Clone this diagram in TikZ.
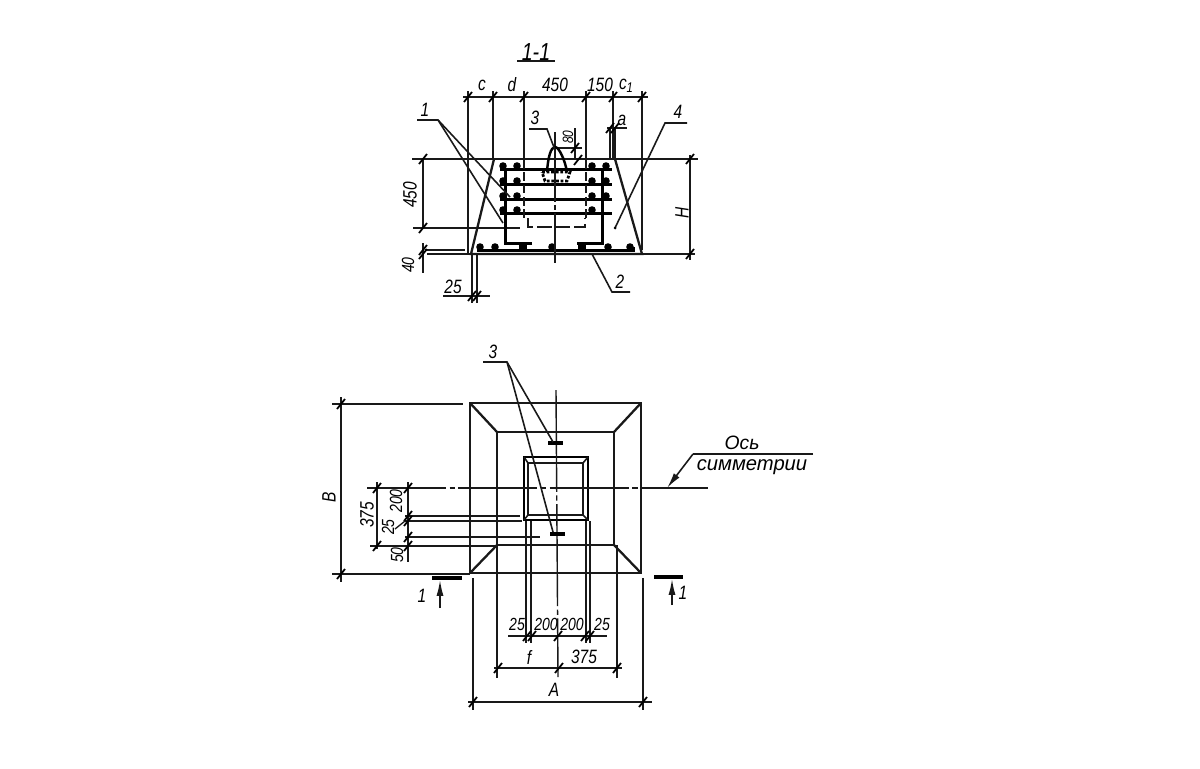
\documentclass[tikz,border=0pt]{standalone}
\usepackage{fontspec}
\setmainfont{Liberation Sans}
\newfontfamily\narrowfont[FakeStretch=0.8]{Liberation Sans}
\usetikzlibrary{arrows.meta, positioning}
\tikzset{
  line/.style={line width=0.9pt, black!90},
  thin line/.style={line width=0.75pt, black!90},
  outline/.style={line width=1.3pt, black!90},
  bar/.style={line width=1.8pt, black},
  axis/.style={line width=0.8pt, black!90},
  hidden/.style={line width=0.9pt, black!90, dash pattern=on 8pt off 2.5pt},
  label/.style={font=\narrowfont\fontsize{11}{12}\selectfont\itshape, inner sep=0pt, text=black},
  small label/.style={font=\narrowfont\fontsize{10}{12}\selectfont\itshape, inner sep=0pt, text=black},
  rotlabel/.style={label, rotate=90},
  arrow line/.style={line, -{Latex[length=9pt,width=4pt]}},
}
\newcommand{\dimtick}[2]{\draw[line width=1pt] (#1-4,#2+5) -- (#1+4,#2-5);}
\begin{document}
\begin{tikzpicture}[x=0.02cm, y=-0.02cm]
  \useasboundingbox (0,0) rectangle (1200,768);

  % Razrez 1-1: kontur
  \node[label, font=\narrowfont\fontsize{14}{14}\selectfont\itshape] (title) at (536,52) {1-1};
  \draw[line] (517,61) -- (555,61);
  \draw[outline] (494,159) -- (613,159);
  \draw[outline] (494,159) -- (471,254) -- (642,254) -- (615,159);

  % Vynosnye linii
  \draw[thin line] (463,97) -- (648,97);
  \foreach \x/\yend in {468/253, 493/159, 524/158, 586/158, 613/159, 642/250} {
    \draw[thin line] (\x,91) -- (\x,\yend);
    \dimtick{\x}{97}
  }
  \draw[thin line] (412,159) -- (698,159);
  \draw[thin line] (413,228) -- (520,228);
  \draw[thin line] (427,254) -- (695,254);
  \draw[thin line] (425,250) -- (465,250);
  \draw[thin line] (423,159) -- (423,228);
  \draw[thin line] (423,243) -- (423,273);
  \draw[thin line] (690,155) -- (690,260);
  \foreach \x/\y in {423/159, 423/228, 423/250, 423/254, 690/159, 690/254} {
    \dimtick{\x}{\y}
  }
  \draw[thin line] (443,296) -- (490,296);
  \foreach \x in {472,477} {
    \draw[thin line] (\x,254) -- (\x,303);
    \dimtick{\x}{296}
  }
  \draw[thin line] (607,128) -- (627,128);
  \foreach \x in {610,615} {
    \draw[thin line] (\x,128) -- (\x,159);
    \dimtick{\x}{128}
  }
  \draw[thin line] (555,148) -- (582,148);
  \draw[thin line] (575,128) -- (575,158);
  \dimtick{575}{148}
  \dimtick{578}{160}

  % Armatura
  \foreach \y in {169.3,184.3,199.3,213.3} {
    \draw[bar] (500,\y) -- (612,\y);
  }
  \draw[bar] (532,243.3) -- (505.3,243.3) -- (505.3,168);
  \draw[bar] (577,243.3) -- (602.3,243.3) -- (602.3,168);
  \draw[bar] (477,250.3) -- (633,250.3) -- (633,247);
  \foreach \y in {166,181,196,210} {
    \foreach \x in {517,592} {
      \fill (\x,\y) circle (3.8);
    }
  }
  \foreach \y in {166,181,196} {
    \fill (606,\y) circle (3.8);
    \fill (503,\y) circle (3.8);
  }
  \fill (503,210) circle (3.8);
  \foreach \x in {480,495,552,608,630} {
    \fill (\x,247) circle (3.8);
  }
  \foreach \x in {523,582} {
    \fill (\x-4,243) rectangle (\x+4,250);
  }
  \draw[hidden] (528,218) -- (528,227) -- (585,227) -- (585,218);
  \draw[thin line, dash pattern=on 5pt off 2pt] (524,160) -- (524,220);
  \draw[thin line, dash pattern=on 5pt off 2pt] (586,160) -- (586,220);
  \draw[axis, dash pattern=on 40pt off 1.5pt on 3pt off 1.5pt] (555,132) -- (555,263);

  % Petlya
  \draw[line width=1.4pt] (547,172) .. controls (548,157) and (551,147) .. (555,147)
    .. controls (559,147) and (565,160) .. (567,172);
  \draw[line width=1.6pt, densely dotted] (542,172) -- (570,172) -- (567,181) -- (545,181) -- cycle;

  % Vynoski
  \node[label] (lblone) at (425,110) {1};
  \draw[line] (417,120) -- (438,120) -- (510,197);
  \draw[line] (438,120) -- (503,223);
  \node[label] (lblthree) at (535,118) {3};
  \draw[line] (529,129) -- (547,129) -- (555,150);
  \node[label] (lblfour) at (678,112) {4};
  \draw[line] (687,123) -- (665,123) -- (615,228);
  \fill (615,228) circle (1.5);
  \node[label] (lbltwo) at (620,282) {2};
  \draw[line] (592,254) -- (612,292) -- (630,292);

  % Razmery 1-1
  \node[label] (dimc) at (482,85) {c};
  \node[label] (dimd) at (512,85) {d};
  \node[label] (dimtop) at (555,85) {450};
  \node[label] (dimonefifty) at (600,85) {150};
  \node[label] (dimcone) at (626,86) {c\raisebox{-2pt}{\fontsize{8}{8}\selectfont 1}};
  \node[label] (dima) at (622,120) {a};
  \node[rotlabel, font=\narrowfont\fontsize{8.5}{9}\selectfont\itshape] (dimeighty) at (568,137) {80};
  \node[rotlabel] (dimleft) at (410,195) {450};
  \node[rotlabel, font=\narrowfont\fontsize{10}{10}\selectfont\itshape] (dimforty) at (408,265) {40};
  \node[rotlabel] (dimh) at (682,213) {H};
  \node[label] (dimbase) at (453,287) {25};

  % Plan: kontur
  \draw[outline] (470,403) rectangle (641,573);
  \draw[outline] (497,432) rectangle (614,545);
  \draw[outline] (470,403) -- (497,432);
  \draw[outline] (641,403) -- (614,432);
  \draw[outline] (470,573) -- (497,545);
  \draw[outline] (641,573) -- (614,545);
  \draw[bar, line width=1.6pt] (524,457) rectangle (588,520);
  \draw[line] (528,463) rectangle (583,515);
  \draw[line] (524,457) -- (528,463);
  \draw[line] (588,457) -- (583,463);
  \draw[line] (524,520) -- (528,515);
  \draw[line] (588,520) -- (583,515);
  \draw[axis, dash pattern=on 58pt off 2pt on 3pt off 2pt] (556,390) -- (558,677);
  \draw[axis, dash pattern=on 45pt off 2pt on 3pt off 2pt] (367,488) -- (708,488);
  \draw[bar] (548,443) -- (563,443);
  \draw[bar] (550,534) -- (565,534);

  % Vynoska 3
  \node[label] (lblplan) at (493,352) {3};
  \draw[line] (483,362) -- (507,362) -- (553,442);
  \draw[line] (507,362) -- (553,532);

  % Ось симметрии
  \node[label, font=\fontsize{11}{12}\selectfont\itshape] (axisone) at (742,443) {Ось};
  \node[label, font=\fontsize{11.5}{12}\selectfont\itshape] (axistwo) at (752,467) {симметрии};
  \draw[line] (813,454) -- (693,454);
  \draw[arrow line] (693,454) -- (667,488);

  % Sechenie
  \draw[line width=2.4pt] (432,578) -- (462,578);
  \draw[line width=2.4pt] (654,577) -- (683,577);
  \draw[arrow line] (440,608) -- (440,580);
  \draw[arrow line] (672,605) -- (672,579);
  \node[label] (secleft) at (422,596) {1};
  \node[label] (secright) at (683,593) {1};

  % Razmery sleva
  \draw[line] (332,404) -- (463,404);
  \draw[line] (332,574) -- (470,574);
  \draw[line] (341,397) -- (341,582);
  \dimtick{341}{404}
  \dimtick{341}{574}
  \node[rotlabel] (dimb) at (329,497) {B};
  \draw[thin line] (377,482) -- (377,549);
  \draw[thin line] (408,482) -- (408,562);
  \draw[thin line] (370,546) -- (497,546);
  \draw[thin line] (405,516) -- (520,516);
  \draw[thin line] (405,521) -- (522,521);
  \draw[thin line] (405,537) -- (540,537);
  \foreach \x/\y in {377/488, 377/546, 408/488, 408/516, 408/521, 408/537, 408/546} {
    \dimtick{\x}{\y}
  }
  \draw[thin line] (395,529) -- (405,521);
  \node[rotlabel] (dimtf) at (367,515) {375};
  \node[rotlabel, small label] (dimtwoh) at (396,501) {200};
  \node[rotlabel, small label] (dimtw) at (388,527) {25};
  \node[rotlabel, small label] (dimfifty) at (397,555) {50};

  % Razmery snizu
  \draw[line] (473,578) -- (473,710);
  \draw[line] (643,578) -- (643,710);
  \draw[line] (468,702) -- (652,702);
  \dimtick{473}{702}
  \dimtick{643}{702}
  \node[label] (dimA) at (554,690) {A};
  \draw[line] (497,545) -- (497,678);
  \draw[line] (617,545) -- (617,678);
  \draw[line] (494,668) -- (622,668);
  \foreach \x in {498,559,617} {
    \dimtick{\x}{668}
  }
  \node[label] (dimf) at (529,657) {f};
  \node[label] (dimrs) at (584,657) {375};
  \draw[thin line] (508,636) -- (607,636);
  \foreach \x in {526,531,586,590} {
    \draw[thin line] (\x,521) -- (\x,643);
  }
  \foreach \x in {527,532,558,585,590} {
    \dimtick{\x}{636}
  }
  \node[small label] (dimpa) at (517,624) {25};
  \node[small label] (dimpb) at (546,624) {200};
  \node[small label] (dimpc) at (572,624) {200};
  \node[small label] (dimpd) at (602,624) {25};
\end{tikzpicture}
\end{document}
